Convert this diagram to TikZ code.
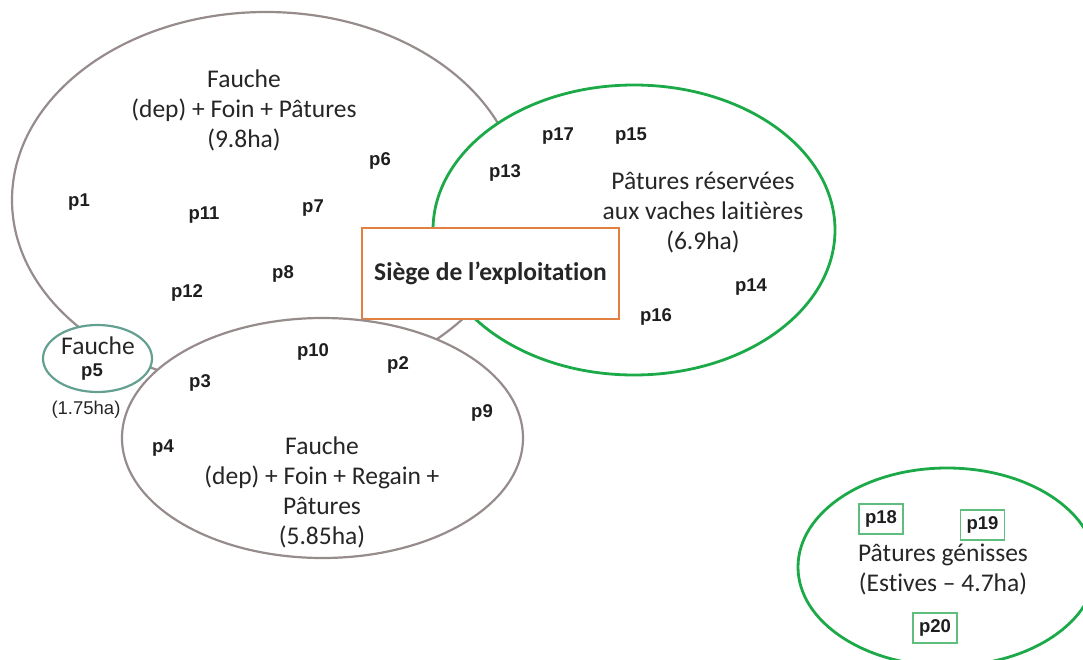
\documentclass[tikz,border=0pt]{standalone}
\usepackage{fontspec}
\setmainfont{Carlito}[Ligatures=NoCommon]
\newfontfamily\labelfont{Liberation Sans}
\usetikzlibrary{shapes.geometric}

\definecolor{zonegrey}{RGB}{150,140,140}
\definecolor{zonegreen}{RGB}{28,170,72}
\definecolor{zoneteal}{RGB}{100,160,145}
\definecolor{tagframe}{RGB}{95,190,125}
\definecolor{siegeorange}{RGB}{226,128,66}
\definecolor{bodytext}{RGB}{38,38,38}
\definecolor{labeltext}{RGB}{30,30,30}

\begin{document}
\begin{tikzpicture}[x=1pt,y=-1pt,
  zone/.style={ellipse, draw=zonegrey, line width=2.2pt, fill=white, inner sep=0pt},
  greenzone/.style={zone, draw=zonegreen, line width=2.8pt},
  bodytxt/.style={align=center, text=bodytext, inner sep=0pt,
                  font=\fontsize{25.5}{30}\selectfont},
  lbl/.style={text=labeltext, inner sep=0pt,
              font=\labelfont\bfseries\fontsize{18.5}{21}\selectfont},
  tag/.style={lbl, draw=tagframe, line width=1.1pt, fill=white,
              minimum width=44pt, minimum height=30pt},
  siege/.style={rectangle, draw=siegeorange, line width=2.4pt, fill=white,
                minimum width=257pt, minimum height=91pt, text=bodytext,
                font=\bfseries\fontsize{25.5}{30}\selectfont}]
\useasboundingbox (0,0) rectangle (1083,660);
\clip (0,0) rectangle (1083,660);

% parcel groups, back to front
\node[zone, minimum width=508pt, minimum height=376pt] (fauchePat) at (266,200) {};
\node[greenzone, minimum width=402pt, minimum height=290pt] (vaches) at (634,230) {};
\node[siege] (siege) at (490.5,273.5) {Siège de l’exploitation};
\node[zone, minimum width=401pt, minimum height=240pt] (faucheReg) at (322.5,438) {};
\node[zone, draw=zoneteal, minimum width=109pt, minimum height=67pt] (faucheP5) at (97.5,358.5) {};
\node[greenzone, minimum width=298pt, minimum height=198pt] (genisses) at (947,567) {};

% group descriptions
\node[bodytxt] (tFauchePat) at (244,110) {Fauche\\(dep) + Foin + Pâtures\\(9.8ha)};
\node[bodytxt] (tVaches) at (703,213) {Pâtures réservées\\aux vaches laitières\\(6.9ha)};
\node[bodytxt] (tFaucheReg) at (322,492) {Fauche\\(dep) + Foin + Regain +\\Pâtures\\(5.85ha)};
\node[bodytxt] (tFaucheP5) at (98,346) {Fauche};
\node[text=bodytext, inner sep=0pt, font=\labelfont\fontsize{18.5}{21}\selectfont] (area5) at (86,410) {(1.75ha)};
\node[bodytxt] (tGenisses) at (943,569) {Pâtures génisses\\(Estives – 4.7ha)};

% parcels
\node[lbl] (p1) at (79,202) {p1};
\node[lbl] (p6) at (380,161) {p6};
\node[lbl] (p7) at (313,208) {p7};
\node[lbl] (p8) at (283,274) {p8};
\node[lbl] (p11) at (204,215) {p11};
\node[lbl] (p12) at (187,293) {p12};
\node[lbl] (p5) at (92,372) {p5};
\node[lbl] (p2) at (398,365) {p2};
\node[lbl] (p3) at (200,383) {p3};
\node[lbl] (p4) at (163,448) {p4};
\node[lbl] (p9) at (482,413) {p9};
\node[lbl] (p10) at (313,352) {p10};
\node[lbl] (p13) at (505,173) {p13};
\node[lbl] (p14) at (751,287) {p14};
\node[lbl] (p15) at (631,136) {p15};
\node[lbl] (p16) at (656,317) {p16};
\node[lbl] (p17) at (558,136) {p17};
\node[tag] (p18) at (881,519) {p18};
\node[tag] (p19) at (982.5,525) {p19};
\node[tag] (p20) at (935,628) {p20};
\end{tikzpicture}
\end{document}
